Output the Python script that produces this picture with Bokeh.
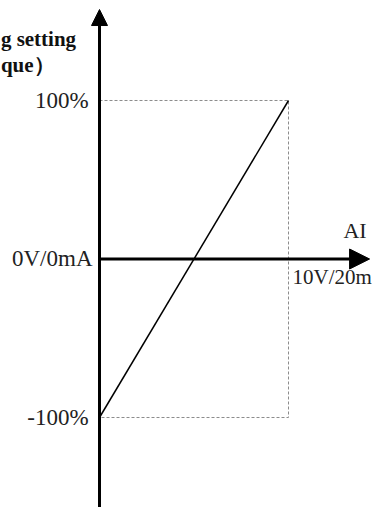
from bokeh.plotting import figure
from bokeh.models import Arrow, NormalHead, Range1d
from bokeh.core.properties import value
from bokeh.embed import file_html
from bokeh.resources import INLINE

# Data: analog input (% of full scale) -> setting (% of torque)
ai_input_pct = [0, 100]
setting_pct = [-100, 100]

y_tick_values = [100, -100]
y_tick_labels = ["100%", "-100%"]
x_tick_labels = ["0V/0mA", "10V/20m"]
x_axis_title = "AI"
y_axis_title = ["g setting", "que\uff09"]

FONT = value("Liberation Serif")

X0, X1 = -52.38, 144.97
Y0, Y1 = -156.78, 163.09

p = figure(width=373, height=507, output_backend="svg", toolbar_location=None,
           x_range=Range1d(X0, X1), y_range=Range1d(Y0, Y1),
           min_border=0)
p.axis.visible = False
p.grid.visible = False
p.outline_line_color = None
p.background_fill_color = "white"

# dashed guide lines
p.line(x=[ai_input_pct[0], ai_input_pct[1], ai_input_pct[1], ai_input_pct[0]],
       y=[setting_pct[1], setting_pct[1], setting_pct[0], setting_pct[0]],
       line_color="#8c8c8c", line_width=1, line_dash="3 2")

# characteristic line
p.line(x=ai_input_pct, y=setting_pct, line_color="black", line_width=1.5)

# axes with arrows
p.add_layout(Arrow(end=NormalHead(size=16, fill_color="black", line_color="black"),
                   x_start=0, y_start=Y0, x_end=0, y_end=157.4,
                   line_width=3, line_color="black"))
p.add_layout(Arrow(end=NormalHead(size=20, fill_color="black", line_color="black"),
                   x_start=0, y_start=0, x_end=142.9, y_end=0,
                   line_width=3, line_color="black"))

# y tick labels
p.text(x=[-5.8, -5.8], y=y_tick_values, text=y_tick_labels, text_font=FONT,
       text_font_size="23px", text_align="right", text_baseline="middle",
       text_color="#222222")
# x labels
p.text(x=[-3.7], y=[0.6], text=[x_tick_labels[0]], text_font=FONT,
       text_font_size="23px", text_align="right", text_baseline="middle",
       text_color="#222222")
p.text(x=[102.1], y=[-11.4], text=[x_tick_labels[1]], text_font=FONT,
       text_font_size="21px", text_align="left", text_baseline="middle",
       text_color="#222222")
p.text(x=[135.2], y=[18.0], text=[x_axis_title], text_font=FONT,
       text_font_size="22px", text_align="center", text_baseline="middle",
       text_color="#222222")
# y axis title (cut at left edge)
p.text(x=[X0 + 0.2, X0 + 0.2], y=[139.1, 122.7], text=y_axis_title, text_font=FONT,
       text_font_size="21px", text_font_style="bold", text_align="left",
       text_baseline="middle", text_color="#111111")

open("out.html", "w").write(file_html(p, INLINE))
